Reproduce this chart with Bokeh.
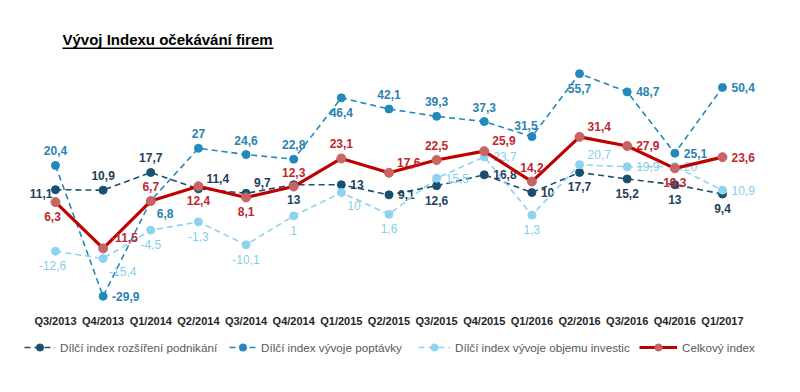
from bokeh.plotting import figure
from bokeh.models import ColumnDataSource, Legend, LegendItem, Range1d, Label, BoxAnnotation
from bokeh.embed import file_html
from bokeh.resources import INLINE
from bokeh.core.properties import value

quarters = ["Q3/2013", "Q4/2013", "Q1/2014", "Q2/2014", "Q3/2014", "Q4/2014", "Q1/2015",
            "Q2/2015", "Q3/2015", "Q4/2015", "Q1/2016", "Q2/2016", "Q3/2016", "Q4/2016", "Q1/2017"]
rozsireni = [11.1, 10.9, 17.7, 11.4, 9.7, 13, 13, 9.1, 12.6, 16.8, 10, 17.7, 15.2, 13, 9.4]
poptavka = [20.4, -29.9, 6.8, 27, 24.6, 22.8, 46.4, 42.1, 39.3, 37.3, 31.5, 55.7, 48.7, 25.1, 50.4]
investice = [-12.6, -15.4, -4.5, -1.3, -10.1, 1, 10, 1.6, 15.5, 23.7, 1.3, 20.7, 19.9, 20, 10.9]
celkovy = [6.3, -11.5, 6.7, 12.4, 8.1, 12.3, 23.1, 17.6, 22.5, 25.9, 14.2, 31.4, 27.9, 19.3, 23.6]

names = ["Dílčí index rozšíření podnikání", "Dílčí index vývoje poptávky",
         "Dílčí index vývoje objemu investic", "Celkový index"]
title_text = "Vývoj Indexu očekávání firem"

# label placement codes (styling)
pos_rozsireni = ["l", "a", "a", "ar", "ar", "b", "r", "r", "b", "r", "r", "b", "b", "b", "b"]
pos_poptavka = ["a", "r", "br", "a", "a", "a", "b", "a", "a", "a", "al", "b", "r", "r", "r"]
pos_investice = ["bl", "br", "b", "b", "b", "b", "br", "b", "r", "r", "b", "ar", "r", "r", "r"]
pos_celkovy = ["bl", "ar", "a", "b", "b", "a", "a", "ar", "a", "ar", "a", "ar", "r", "b", "r"]

OFF = {
    "a": (0, 10, "center", "bottom"),
    "b": (0, -10, "center", "top"),
    "l": (-3, -4, "right", "middle"),
    "r": (9, 0, "left", "middle"),
    "ar": (8, 6, "left", "bottom"),
    "al": (-6, 7, "center", "bottom"),
    "br": (6, -8, "left", "top"),
    "bl": (-3, -10, "center", "top"),
}

# legend item placement (screen px) and glyph widths (styling)
LEG_X = [24, 229, 418, 639]
LEG_GW = [31, 27, 32, 38]

def fmt(v):
    return ("%g" % v).replace(".", ",")

xs = list(range(len(quarters)))
TICK_Y = -39.6  # data level where category labels sit

p = figure(x_range=Range1d(-1.154, 15.302), y_range=Range1d(-60.77, 83.85),
           width=784, height=376, output_backend="svg", toolbar_location=None,
           min_border_left=0, min_border_right=0, min_border_top=0, min_border_bottom=0)
p.outline_line_color = None
p.grid.visible = False
p.axis.visible = False

# category labels
p.text(xs, [TICK_Y] * len(xs), text=quarters, text_align="center", text_baseline="middle",
       text_font=value("Liberation Sans"), text_font_size="11px", text_font_style="bold",
       text_color="#262626")

series = [
    (rozsireni, pos_rozsireni, "#1b4f72", "#1b4f72", "#1f3f5c", "bold", "6 4", 1.6, 8),
    (poptavka, pos_poptavka, "#2389ba", "#2389ba", "#2a82b0", "bold", "6 4", 1.6, 8),
    (investice, pos_investice, "#8dd3f1", "#8dd3f1", "#86cdeb", "normal", "6 4", 1.6, 8),
    (celkovy, pos_celkovy, "#c00000", "#c86464", "#c0282d", "bold", None, 3.2, 9),
]

for k, ((vals, poss, lc, mc, tc, fs, dash, lw, ms), name) in enumerate(zip(series, names)):
    src = ColumnDataSource(dict(x=xs, y=vals))
    kw = dict(line_dash=dash) if dash else {}
    r1 = p.line("x", "y", source=src, line_color=lc, line_width=lw, **kw)
    r2 = p.scatter("x", "y", source=src, size=ms, fill_color=mc, line_color=mc)
    for code in sorted(set(poss)):
        idx = [i for i, c in enumerate(poss) if c == code]
        dx, dy, al, bl = OFF[code]
        s = ColumnDataSource(dict(x=[xs[i] for i in idx], y=[vals[i] for i in idx],
                                  t=[fmt(vals[i]) for i in idx]))
        p.text("x", "y", text="t", source=s, x_offset=dx, y_offset=-dy, text_align=al,
               text_baseline=bl, text_font=value("Liberation Sans"), text_font_size="12px",
               text_font_style=fs, text_color=tc)
    leg = Legend(items=[LegendItem(label=name, renderers=[r1, r2])], orientation="horizontal",
                 location=(LEG_X[k], 20),
                 label_text_font="Liberation Sans", label_text_font_size="11.7px",
                 label_text_color="#595959", border_line_color=None, background_fill_alpha=0,
                 margin=0, padding=0, spacing=0, glyph_width=LEG_GW[k], glyph_height=18,
                 label_height=18, label_standoff=5)
    p.add_layout(leg)

title = Label(x=62, y=337, x_units="screen", y_units="screen", text=title_text,
              text_font="Liberation Sans", text_font_style="bold", text_font_size="15px",
              text_color="#000000", text_baseline="alphabetic")
p.add_layout(title)
under = BoxAnnotation(left=62, right=273, bottom=327.6, top=329, left_units="screen", right_units="screen",
                      bottom_units="screen", top_units="screen", fill_color="#000000", fill_alpha=1,
                      line_color=None, level="overlay")
p.add_layout(under)

open("out.html", "w").write(file_html(p, INLINE))
